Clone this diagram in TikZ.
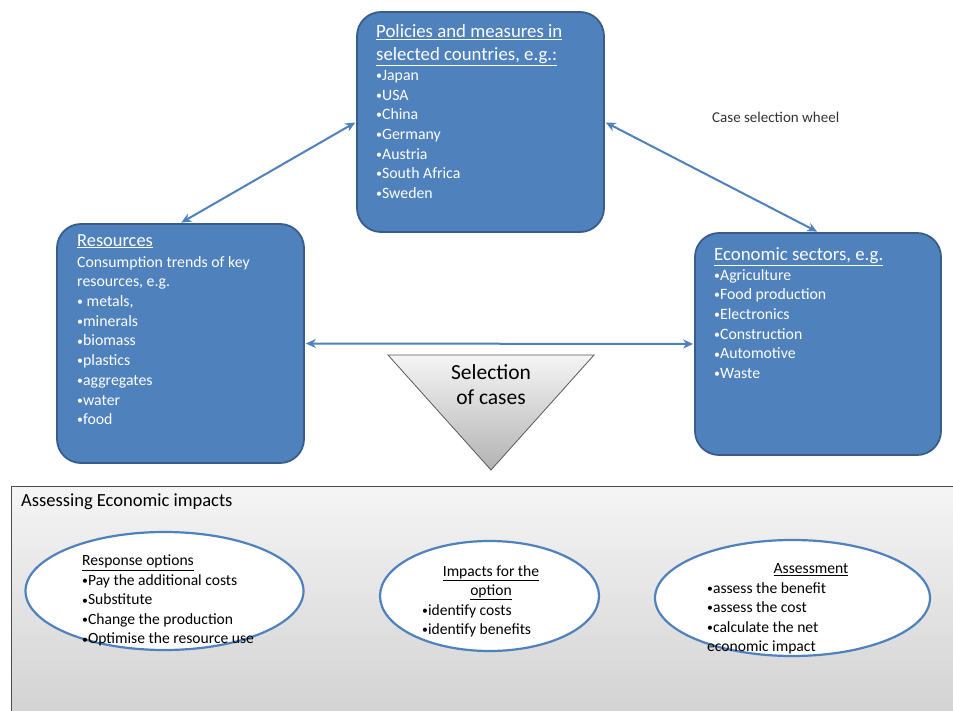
\documentclass[tikz,border=0pt]{standalone}
\usepackage{fontspec}
\setmainfont{Carlito}
\usetikzlibrary{arrows.meta,shapes.geometric}
\definecolor{boxblue}{HTML}{4F81BD}
\definecolor{boxedge}{HTML}{385D8A}
% small list bullet
\newcommand\bl{\raisebox{0.12ex}{\scalebox{0.75}{•}}}
\tikzset{
  x=1pt, y=-1pt,
  bluebox/.style={draw=boxedge, line width=1.8pt, fill=boxblue, rounded corners=24pt, inner sep=0pt},
  boxtitle/.style={text=white, anchor=north west, inner sep=0pt, align=left, font=\fontsize{18.8}{23}\selectfont},
  boxitems/.style={text=white, anchor=north west, inner sep=0pt, align=left, font=\fontsize{15.8}{19.7}\selectfont},
  link/.style={draw=boxblue, line width=2pt, {Stealth[length=10pt,width=9pt]}-{Stealth[length=10pt,width=9pt]}, shorten <=1pt, shorten >=1pt},
  oval/.style={draw=boxblue, line width=2.2pt, fill=white, ellipse, inner sep=0pt},
  ovaltext/.style={anchor=north west, inner sep=0pt, align=left, font=\fontsize{15.6}{19.5}\selectfont},
}
\begin{document}
\begin{tikzpicture}
\useasboundingbox (0,0) rectangle (953,711);
\fill[white] (0,0) rectangle (953,711);

% three case boxes
\node[bluebox, minimum width=247pt, minimum height=220pt] (pol) at (480.5,122) {};
\node[bluebox, minimum width=247pt, minimum height=239pt] (res) at (180.5,343.5) {};
\node[bluebox, minimum width=246pt, minimum height=222pt] (eco) at (818,344) {};

% connectors between the boxes
\draw[link] (pol.west) -- (res.north);
\draw[link] (pol.east) -- (eco.north);
\draw[link] (res.east) -- (eco.west);

% box texts
\node[boxtitle] (poltitle) at (376,24) {\underline{Policies and measures in}\\\underline{selected countries, e.g.:}};
\node[boxitems] (politems) at (376,70) {\bl Japan\\\bl USA\\\bl China\\\bl Germany\\\bl Austria\\\bl South Africa\\\bl Sweden};

\node[boxtitle, font=\fontsize{18.4}{20}\selectfont] (restitle) at (77,234) {\underline{Resources}};
\node[boxitems] (resitems) at (77,256) {Consumption trends of key\\resources, e.g.\\\bl{} metals,\\\bl minerals\\\bl biomass\\\bl plastics\\\bl aggregates\\\bl water\\\bl food};

\node[boxtitle] (ecotitle) at (714,247) {\underline{Economic sectors, e.g.}};
\node[boxitems] (ecoitems) at (714,269) {\bl Agriculture\\\bl Food production\\\bl Electronics\\\bl Construction\\\bl Automotive\\\bl Waste};

\node[anchor=west, inner sep=0pt, text=black!80, font=\fontsize{15}{17}\selectfont] (wheel) at (712,117) {Case selection wheel};

% selection funnel
\coordinate (tl) at (388,355);
\coordinate (tr) at (594,355);
\coordinate (tb) at (491,470);
\shade[top color=gray!8, bottom color=gray!60, draw=gray!70!black, line width=0.8pt] (tl) -- (tr) -- (tb) -- cycle;
\node[align=center, inner sep=0pt, font=\fontsize{21.5}{25}\selectfont] (sel) at (491,385) {Selection\\of cases};

% assessment panel
\shade[top color=gray!8, bottom color=gray!35, draw=gray!60!black, line width=1pt] (11,486) rectangle (960,715);
\node[anchor=west, inner sep=0pt, font=\fontsize{18.5}{20}\selectfont] (assess) at (21,502) {Assessing Economic impacts};

\node[oval, minimum width=278pt, minimum height=118pt] (resp) at (164.5,591) {};
\node[oval, minimum width=219pt, minimum height=110pt] (imp) at (489.5,596) {};
\node[oval, minimum width=275pt, minimum height=116pt] (asm) at (792.5,598) {};

\node[ovaltext] (resptext) at (82,555) {\underline{Response options}\\\bl Pay the additional costs\\\bl Substitute\\\bl Change the production\\\bl Optimise the resource use};
\node[ovaltext, align=center, anchor=north] (imptitle) at (491,565) {\underline{Impacts for the}\\\underline{option}};
\node[ovaltext] (impitems) at (422,604) {\bl identify costs\\\bl identify benefits};
\node[ovaltext, align=center, anchor=north] (asmtitle) at (811,563) {\underline{Assessment}};
\node[ovaltext] (asmitems) at (707,582) {\bl assess the benefit\\\bl assess the cost\\\bl calculate the net\\economic impact};
\end{tikzpicture}
\end{document}
